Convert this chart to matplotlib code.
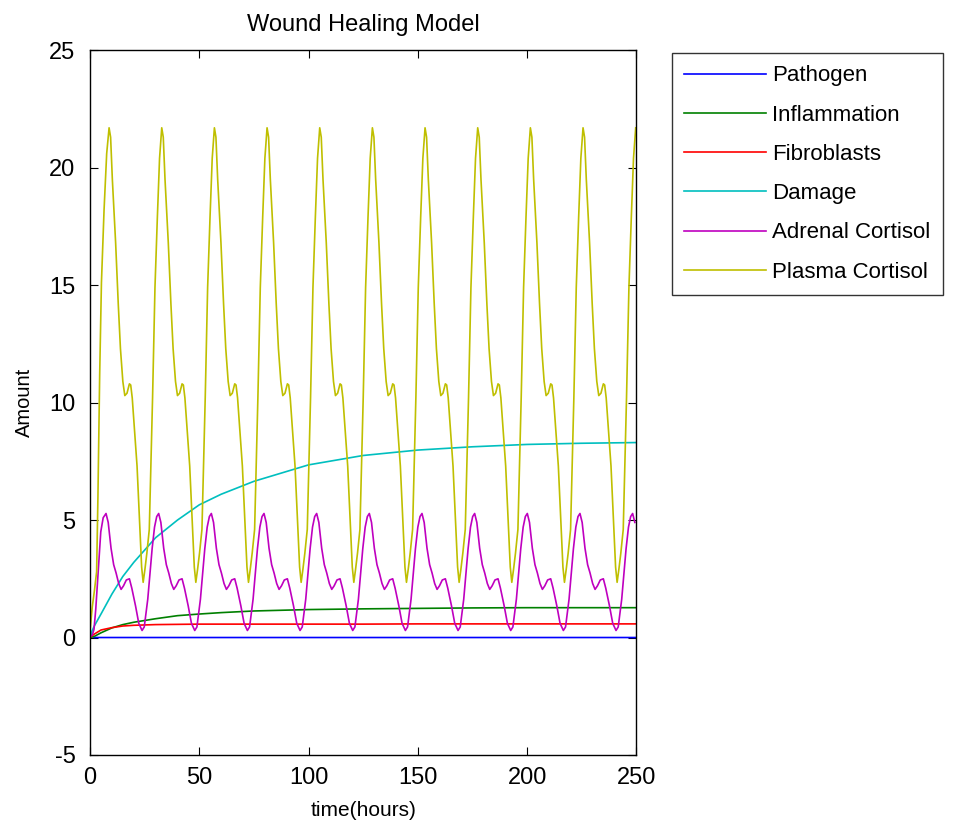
import matplotlib
matplotlib.use("Agg")
import matplotlib.pyplot as plt

# smooth state variables
T_SMOOTH = [0, 1, 2, 5, 10, 15, 20, 30, 40, 50, 60, 75, 100, 125, 150, 175, 200, 225, 250]
PATHOGEN = [0.25, 0.05, 0.0, 0.0, 0.0, 0.0, 0.0, 0.0, 0.0, 0.0, 0.0, 0.0, 0.0, 0.0, 0.0, 0.0, 0.0, 0.0, 0.0]
INFLAMMATION = [0.0, 0.02, 0.05, 0.2, 0.41, 0.55, 0.65, 0.8, 0.93, 1.0, 1.06, 1.13, 1.19, 1.22, 1.24, 1.26, 1.27, 1.27, 1.27]
FIBROBLASTS = [0.0, 0.08, 0.15, 0.32, 0.42, 0.49, 0.52, 0.55, 0.56, 0.57, 0.57, 0.57, 0.57, 0.57, 0.58, 0.58, 0.58, 0.58, 0.58]
DAMAGE = [0.0, 0.3, 0.5, 1.0, 1.85, 2.6, 3.2, 4.25, 5.0, 5.65, 6.1, 6.65, 7.35, 7.75, 7.98, 8.12, 8.22, 8.27, 8.3]

# plasma cortisol: start-up, then one daily cycle placed at each observed peak
PLASMA_START_T = [0, 1, 2, 3, 3.6, 4.4, 5.2, 6.4, 7.6]
PLASMA_START = [0.3, 1.3, 2.0, 2.8, 6.0, 11.2, 15.1, 18.2, 20.6]
PLASMA_PEAKS = [8.7, 32.8, 56.9, 81.0, 105.1, 129.2, 153.3, 177.4, 201.5, 225.6, 249.7]
PLASMA_OFFSETS = [-8.5, -7.7, -6.8, -5.7, -4.9, -4.2, -3.1, -2.0, -1.0, 0, 0.7, 1.5, 3.0, 4.2,
                  5.2, 6.3, 7.2, 8.2, 9.3, 9.9, 10.6, 11.5, 12.8, 14.2, 14.9]
PLASMA_CYCLE = [2.35, 2.9, 3.6, 4.6, 7.5, 10.2, 14.9, 17.9, 20.4, 21.7, 21.3, 19.5, 16.8, 14.2,
                12.3, 10.9, 10.3, 10.4, 10.8, 10.75, 10.2, 9.0, 7.3, 4.5, 3.0]

# adrenal cortisol, same idea
ADRENAL_START_T = [0, 1.0, 1.8, 2.6, 3.8, 4.9, 6.0]
ADRENAL_START = [0.05, 0.1, 0.35, 1.2, 2.9, 4.5, 5.1]
ADRENAL_PEAKS = [7.3, 31.4, 55.5, 79.6, 103.7, 127.8, 151.9, 176.0, 200.1, 224.2, 248.3]
ADRENAL_OFFSETS = [-7.6, -6.6, -5.0, -3.9, -3.0, -1.9, -0.9, 0, 1.0, 2.3, 3.5, 4.6, 5.8, 6.9,
                   8.0, 9.3, 10.7, 11.8, 13.5, 15.0]
ADRENAL_CYCLE = [0.3, 0.45, 1.63, 2.8, 3.78, 4.7, 5.15, 5.28, 4.9, 3.8, 3.1, 2.75, 2.3, 2.05,
                 2.2, 2.45, 2.5, 2.1, 1.35, 0.6]

COLORS = {
    "Pathogen": (0, 0, 1),
    "Inflammation": (0, 0.5, 0),
    "Fibroblasts": (1, 0, 0),
    "Damage": (0, 0.75, 0.75),
    "Adrenal Cortisol": (0.75, 0, 0.75),
    "Plasma Cortisol": (0.75, 0.75, 0),
}


def build_cycles(start_t, start_v, peaks, offsets, cycle, t_end=250):
    t, v = list(start_t), list(start_v)
    for k, tp in enumerate(peaks):
        for off, val in zip(offsets, cycle):
            if k == 0 and off < 0:
                continue
            if tp + off <= t_end:
                t.append(tp + off)
                v.append(val)
    return t, v


plt.rcParams["font.family"] = ["Liberation Sans", "DejaVu Sans"]
plt.rcParams["axes.unicode_minus"] = False
fig = plt.figure(figsize=(9.79, 8.31), dpi=100)
ax = fig.add_axes([0.092, 0.0915, 0.558, 0.848])

plasma_t, plasma_v = build_cycles(PLASMA_START_T, PLASMA_START, PLASMA_PEAKS, PLASMA_OFFSETS, PLASMA_CYCLE)
adrenal_t, adrenal_v = build_cycles(ADRENAL_START_T, ADRENAL_START, ADRENAL_PEAKS, ADRENAL_OFFSETS, ADRENAL_CYCLE)

ax.plot(T_SMOOTH, PATHOGEN, color=COLORS["Pathogen"], lw=1.2, label="Pathogen")
ax.plot(T_SMOOTH, INFLAMMATION, color=COLORS["Inflammation"], lw=1.2, label="Inflammation")
ax.plot(T_SMOOTH, FIBROBLASTS, color=COLORS["Fibroblasts"], lw=1.2, label="Fibroblasts")
ax.plot(T_SMOOTH, DAMAGE, color=COLORS["Damage"], lw=1.2, label="Damage")
ax.plot(adrenal_t, adrenal_v, color=COLORS["Adrenal Cortisol"], lw=1.2, label="Adrenal Cortisol")
ax.plot(plasma_t, plasma_v, color=COLORS["Plasma Cortisol"], lw=1.2, label="Plasma Cortisol")

ax.set_xlim(0, 250)
ax.set_ylim(-5, 25)
ax.set_xticks(range(0, 251, 50))
ax.set_yticks(range(-5, 26, 5))
ax.tick_params(direction="in", top=True, right=True, length=6, labelsize=17)
ax.tick_params(axis="x", pad=9)
ax.tick_params(axis="y", pad=10.5)
for s in ax.spines.values():
    s.set_linewidth(1.0)

ax.set_title("Wound Healing Model", fontsize=17, pad=14)
ax.set_xlabel("time(hours)", fontsize=15, labelpad=8)
ax.set_ylabel("Amount", fontsize=14.5, labelpad=11)

leg = ax.legend(loc="upper left", bbox_to_anchor=(0.686, 0.936), bbox_transform=fig.transFigure,
                fontsize=16, frameon=True, fancybox=False, edgecolor="black",
                handlelength=3.7, handletextpad=0.27, labelspacing=0.82, borderpad=0.55,
                borderaxespad=0)
leg.get_frame().set_linewidth(1.0)

fig.savefig("out.png", dpi=100)
